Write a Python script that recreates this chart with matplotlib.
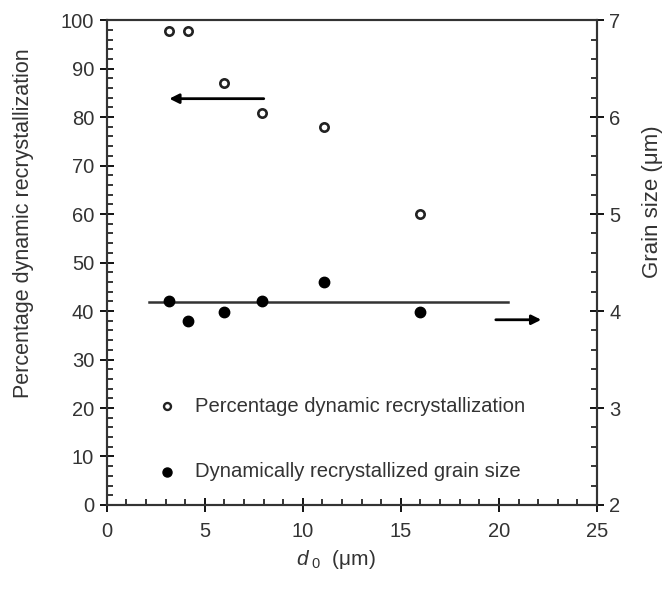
import matplotlib.pyplot as plt
from matplotlib.ticker import MultipleLocator

plt.rcParams['font.family'] = ['Liberation Sans', 'DejaVu Sans']
plt.rcParams['mathtext.fontset'] = 'custom'
plt.rcParams['mathtext.rm'] = 'Liberation Sans'
plt.rcParams['mathtext.it'] = 'Liberation Sans:italic'

# grain size d0 (um)
d0 = [3.2, 4.15, 6.0, 7.9, 11.1, 16.0]
# percentage dynamic recrystallization (left axis)
pct_drx = [97.8, 97.8, 87.0, 80.8, 77.9, 60.0]
# dynamically recrystallized grain size (right axis, um)
drx_size = [4.10, 3.90, 3.99, 4.10, 4.30, 3.99]
# mean grain size line
mean_x = [2.15, 20.45]
mean_y = [4.09, 4.09]

txt = '#333333'

fig = plt.figure(figsize=(6.67, 5.92), dpi=100)
ax = fig.add_axes([0.160, 0.147, 0.735, 0.819])
ax2 = ax.twinx()

ax.plot(d0, pct_drx, 'o', ms=6, mfc='white', mec='#222222', mew=1.9, zorder=3)
ax2.plot(d0, drx_size, 'o', ms=7.5, color='black', zorder=3)
ax2.plot(mean_x, mean_y, '-', color='#333333', lw=1.8)

# arrows
ax.annotate('', xy=(3.05, 83.8), xytext=(8.15, 83.8),
            arrowprops=dict(arrowstyle='-|>', color='black', lw=2.0, mutation_scale=14))
ax2.annotate('', xy=(22.3, 3.91), xytext=(19.7, 3.91),
             arrowprops=dict(arrowstyle='-|>', color='black', lw=2.0, mutation_scale=14))

# legend drawn inside the plot
ax.plot([3.05], [20.4], 'o', ms=5, mfc='white', mec='#222222', mew=1.7)
ax.text(4.5, 20.4, 'Percentage dynamic recrystallization', fontsize=14.6, color=txt, va='center')
ax.plot([3.05], [6.9], 'o', ms=6.5, color='black')
ax.text(4.5, 6.9, 'Dynamically recrystallized grain size', fontsize=14.6, color=txt, va='center')

ax.set_xlim(0, 25)
ax.set_ylim(0, 100)
ax2.set_ylim(2, 7)

ax.xaxis.set_major_locator(MultipleLocator(5))
ax.xaxis.set_minor_locator(MultipleLocator(1))
ax.yaxis.set_major_locator(MultipleLocator(10))
ax.yaxis.set_minor_locator(MultipleLocator(2))
ax2.yaxis.set_major_locator(MultipleLocator(1))
ax2.yaxis.set_minor_locator(MultipleLocator(0.2))

for a in (ax, ax2):
    a.tick_params(which='major', direction='inout', length=10, width=1.3, labelsize=14.5,
                  labelcolor=txt, pad=4)
    a.tick_params(which='minor', direction='in', length=4, width=1.1)
    for s in a.spines.values():
        s.set_linewidth(1.5)
        s.set_color('#333333')
ax.tick_params(axis='x', top=False, which='both')
ax.tick_params(axis='x', which='major', pad=7)

ax.set_ylabel('Percentage dynamic recrystallization', fontsize=15.5, color=txt, va='center')
ax.yaxis.set_label_coords(-0.169, 0.581)
ax2.set_ylabel('Grain size (\u03bcm)', fontsize=16, color=txt, va='center')
ax2.yaxis.set_label_coords(1.114, 0.625)
ax.set_xlabel('$\\mathit{d}_{\\ \\mathit{0}}$  (\u03bcm)', fontsize=15, color=txt, va='center')
ax.xaxis.set_label_coords(0.467, -0.113)

fig.savefig('out.png', dpi=100)
